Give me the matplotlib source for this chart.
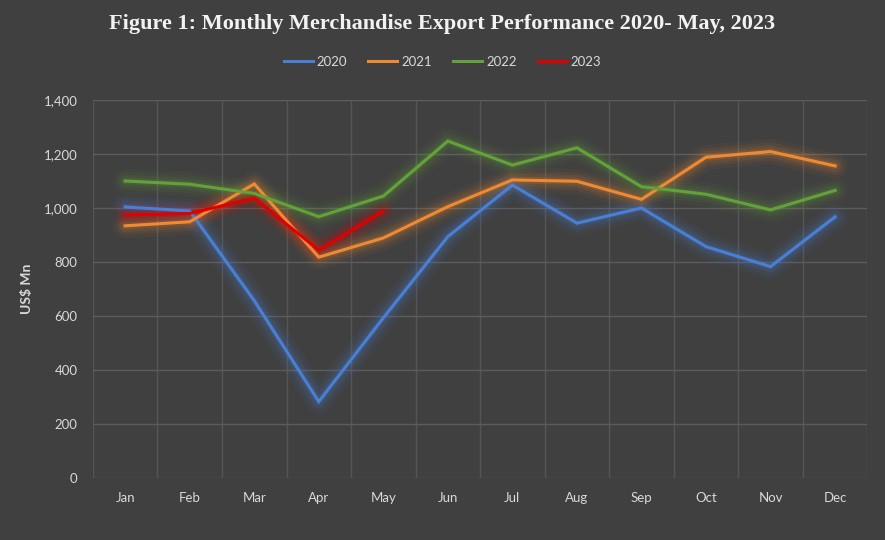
import matplotlib
matplotlib.use("Agg")
from matplotlib import pyplot as plt

months = ['Jan', 'Feb', 'Mar', 'Apr', 'May', 'Jun', 'Jul', 'Aug', 'Sep', 'Oct', 'Nov', 'Dec']
y2020 = [1004, 989, 657, 283, 593, 894, 1085, 944, 1000, 857, 783, 967]
y2021 = [934, 949, 1089, 818, 889, 1005, 1104, 1099, 1032, 1188, 1209, 1156]
y2022 = [1100, 1088, 1054, 968, 1044, 1248, 1159, 1223, 1079, 1051, 993, 1065]
y2023 = [974, 980, 1036, 844, 989]
yticks = [0, 200, 400, 600, 800, 1000, 1200, 1400]

series = [('2020', y2020, '#4a7fd6'),
          ('2021', y2021, '#f08a32'),
          ('2022', y2022, '#63a23a'),
          ('2023', y2023, '#e00000')]

bg = '#404040'
txt = '#d9d9d9'

fig = plt.figure(figsize=(8.85, 5.4), dpi=100, facecolor=bg)
ax = fig.add_axes([0.105, 0.1148, 0.875, 0.70])
ax.set_facecolor(bg)

x = list(range(len(months)))

# glow first, then lines on top
for name, vals, col in series:
    xs = x[:len(vals)]
    for lw, a in [(18, 0.05), (13, 0.07), (9, 0.10), (5, 0.15)]:
        ax.plot(xs, vals, color=col, lw=lw, alpha=a, solid_capstyle='round',
                solid_joinstyle='round', zorder=2)
for name, vals, col in series:
    xs = x[:len(vals)]
    ax.plot(xs, vals, color=col, lw=2.2, label=name, zorder=3,
            solid_joinstyle='miter')

ax.set_xlim(-0.5, 11.5)
ax.set_ylim(0, 1400)
ax.set_yticks(yticks)
ax.set_yticklabels(['{:,}'.format(v) for v in yticks])
ax.set_xticks(x)
ax.set_xticklabels(months)
ax.set_xticks([i - 0.5 for i in range(13)], minor=True)

ax.grid(axis='y', which='major', color='#5c5c5c', lw=1)
ax.grid(axis='x', which='minor', color='#555555', lw=1)
ax.set_axisbelow(True)
for s in ax.spines.values():
    s.set_visible(False)
ax.tick_params(which='both', length=0, colors=txt, labelsize=9.5, pad=10)
ax.tick_params(axis='y', pad=11)
for lab in ax.get_xticklabels() + ax.get_yticklabels():
    lab.set_family('Lato')

ax.set_ylabel('US$ Mn', color=txt, fontsize=10, fontweight='bold',
              family='Lato', labelpad=8)

fig.text(0.5, 0.955, 'Figure 1: Monthly Merchandise Export Performance 2020- May, 2023',
         ha='center', va='center', color='#f2f2f2', fontsize=16,
         fontweight='bold', family='Liberation Serif')

leg = fig.legend(loc='center', bbox_to_anchor=(0.5, 0.885), ncol=4,
                 frameon=False, handlelength=2.2, columnspacing=1.6,
                 handletextpad=0.3, prop={'family': 'Lato', 'size': 9.5})
for t in leg.get_texts():
    t.set_color(txt)

fig.savefig('out.png', dpi=100, facecolor=bg)
